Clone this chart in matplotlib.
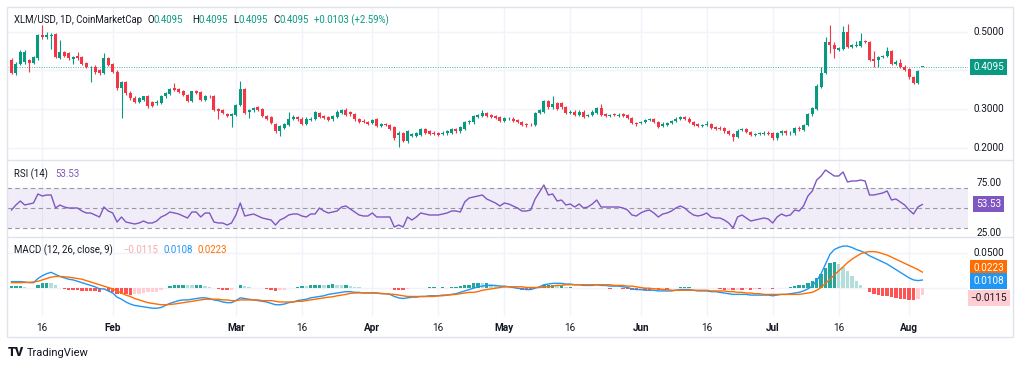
import matplotlib.pyplot as plt
import numpy as np

plt.rcParams['font.family'] = ['Roboto', 'DejaVu Sans']

# daily candles XLM/USD, Jan 9 .. Aug 4
opens = [
    .427, .393, .417, .421, .427, .420, .431, .491, .487, .488,
    .494, .431, .448, .444, .429, .437, .434, .420, .408, .410,
    .401, .393, .431, .417, .397, .354, .371, .343, .330, .318,
    .324, .334, .320, .315, .317, .333, .340, .354, .352, .347,
    .336, .321, .348, .345, .324, .334, .334, .300, .298, .287,
    .284, .285, .311, .352, .294, .297, .305, .300, .283, .279,
    .262, .243, .251, .260, .274, .279, .276, .262, .273, .275,
    .291, .283, .279, .274, .281, .291, .297, .292, .287, .275,
    .271, .268, .264, .274, .257, .262, .259, .254, .234, .238,
    .219, .231, .232, .234, .250, .243, .240, .238, .236, .238,
    .240, .249, .243, .249, .266, .266, .281, .284, .291, .285,
    .283, .279, .271, .275, .276, .273, .268, .262, .262, .260,
    .290, .294, .322, .305, .317, .315, .305, .291, .294, .285,
    .294, .282, .285, .290, .304, .287, .284, .287, .284, .287,
    .285, .277, .265, .264, .267, .273, .275, .268, .257, .260,
    .264, .269, .275, .281, .276, .268, .262, .257, .259, .262,
    .254, .253, .251, .244, .236, .228, .247, .249, .242, .234,
    .236, .236, .240, .238, .225, .238, .244, .238, .238, .253,
    .247, .260, .287, .300, .358, .393, .474, .466, .453, .455,
    .500, .461, .463, .463, .476, .474, .429, .427, .434, .437,
    .449, .418, .420, .410, .403, .384, .367, .4095]
highs = [
    .432, .421, .452, .452, .430, .437, .494, .517, .500, .496,
    .497, .479, .451, .447, .437, .448, .437, .423, .412, .413,
    .404, .444, .434, .420, .400, .374, .374, .346, .333, .331,
    .335, .336, .322, .323, .336, .344, .355, .369, .355, .350,
    .339, .348, .351, .348, .337, .338, .337, .303, .301, .290,
    .290, .314, .373, .356, .301, .306, .309, .303, .286, .282,
    .265, .260, .264, .294, .285, .282, .279, .279, .279, .296,
    .294, .286, .282, .286, .297, .300, .303, .295, .290, .278,
    .274, .271, .276, .277, .265, .265, .262, .257, .243, .241,
    .246, .239, .241, .252, .253, .246, .243, .241, .243, .246,
    .252, .252, .257, .269, .273, .286, .288, .298, .294, .288,
    .286, .282, .280, .279, .279, .276, .271, .265, .264, .293,
    .301, .325, .325, .334, .320, .318, .308, .297, .297, .297,
    .297, .288, .297, .307, .314, .290, .289, .290, .290, .290,
    .288, .280, .268, .271, .275, .278, .278, .271, .266, .268,
    .272, .279, .284, .284, .279, .271, .265, .262, .270, .265,
    .257, .256, .254, .247, .239, .248, .253, .252, .245, .239,
    .241, .243, .243, .241, .241, .247, .247, .243, .254, .256,
    .263, .290, .307, .364, .410, .487, .517, .474, .460, .515,
    .521, .469, .477, .496, .479, .477, .449, .437, .440, .461,
    .452, .426, .429, .413, .406, .387, .402, .4095]
lows = [
    .390, .388, .413, .418, .397, .417, .428, .480, .480, .455,
    .433, .429, .434, .428, .417, .427, .415, .407, .370, .392,
    .389, .391, .411, .394, .350, .277, .338, .325, .315, .315,
    .321, .303, .306, .312, .314, .330, .337, .347, .342, .334,
    .318, .318, .340, .321, .321, .330, .295, .274, .287, .281,
    .255, .282, .308, .288, .277, .294, .295, .280, .272, .261,
    .240, .230, .248, .257, .272, .271, .259, .259, .270, .272,
    .278, .274, .270, .271, .278, .288, .282, .284, .271, .264,
    .264, .259, .261, .254, .254, .256, .247, .222, .204, .216,
    .214, .228, .229, .231, .237, .233, .233, .231, .233, .235,
    .237, .240, .240, .246, .262, .262, .278, .281, .280, .278,
    .274, .268, .268, .273, .268, .264, .256, .254, .258, .257,
    .287, .291, .302, .302, .297, .302, .288, .288, .282, .282,
    .278, .279, .282, .287, .282, .281, .279, .282, .281, .280,
    .274, .261, .258, .261, .264, .270, .265, .252, .254, .257,
    .261, .266, .272, .273, .264, .256, .254, .255, .256, .248,
    .247, .246, .240, .233, .219, .225, .244, .238, .231, .231,
    .233, .233, .233, .222, .222, .235, .235, .235, .235, .245,
    .244, .257, .284, .297, .355, .390, .444, .431, .450, .452,
    .458, .458, .460, .460, .471, .424, .410, .410, .431, .434,
    .415, .415, .407, .398, .379, .364, .364, .4095]
closes = [
    .393, .417, .447, .448, .420, .434, .491, .487, .491, .491,
    .436, .447, .437, .431, .436, .431, .418, .410, .410, .395,
    .393, .431, .414, .397, .354, .371, .341, .328, .318, .328,
    .333, .309, .309, .320, .334, .341, .352, .350, .345, .337,
    .321, .346, .343, .324, .334, .333, .298, .296, .290, .284,
    .287, .311, .352, .291, .298, .303, .298, .283, .275, .264,
    .243, .257, .261, .274, .279, .274, .262, .276, .276, .292,
    .281, .277, .273, .283, .294, .297, .285, .287, .274, .267,
    .267, .262, .273, .257, .262, .259, .250, .225, .238, .219,
    .243, .236, .238, .249, .240, .236, .236, .234, .240, .243,
    .249, .243, .254, .266, .270, .283, .285, .291, .283, .281,
    .277, .271, .277, .276, .271, .267, .259, .260, .261, .290,
    .298, .322, .305, .314, .300, .305, .291, .294, .285, .294,
    .281, .285, .294, .304, .285, .284, .286, .285, .286, .283,
    .277, .264, .262, .268, .272, .275, .268, .255, .263, .265,
    .269, .276, .281, .276, .267, .259, .257, .259, .263, .251,
    .250, .249, .243, .236, .228, .245, .250, .241, .234, .236,
    .238, .240, .236, .225, .238, .244, .238, .240, .251, .248,
    .260, .287, .304, .361, .393, .474, .466, .455, .457, .500,
    .461, .466, .466, .476, .474, .427, .425, .434, .437, .449,
    .418, .423, .410, .401, .382, .367, .3992, .4095]

# RSI (14), one value per candle
rsi_vals = [
    48, 53, 57, 53, 54, 55, 64, 62, 63, 63,
    50, 53, 51, 50, 50, 50, 47, 45, 45, 43,
    41, 51, 47, 45, 36, 41, 36, 35, 34, 35,
    37, 35, 35, 37, 41, 43, 46, 45, 44, 42,
    40, 46, 46, 41, 45, 45, 36, 35, 35, 33,
    35, 43, 55, 42, 43, 44, 42, 40, 39, 38,
    33, 38, 40, 43, 44, 44, 42, 41, 44, 44,
    50, 47, 45, 46, 47, 51, 52, 49, 46, 43,
    42, 42, 45, 41, 41, 41, 41, 31, 33, 31,
    41, 38, 41, 45, 44, 43, 43, 43, 44, 45,
    47, 47, 46, 56, 60, 61, 62, 63, 59, 57,
    55, 52, 55, 54, 52, 50, 47, 47, 48, 59,
    66, 73, 63, 64, 57, 58, 53, 54, 51, 54,
    50, 51, 54, 58, 51, 51, 51, 51, 51, 50,
    48, 43, 42, 45, 47, 48, 45, 41, 44, 45,
    47, 50, 52, 50, 46, 43, 42, 43, 45, 41,
    40, 40, 38, 35, 30, 41, 43, 40, 37, 38,
    39, 40, 39, 35, 41, 44, 42, 43, 48, 47,
    52, 62, 67, 78, 82, 88, 85, 82, 82, 86,
    76, 77, 77, 78, 77, 63, 63, 64, 65, 67,
    58, 59, 56, 53, 48, 44, 51, 53.53]

# MACD (12, 26, close, 9): macd and signal line, one value per candle
macd_vals = [
    .0085, .0085, .0085, .008, .007, .007, .013, .017, .020, .022,
    .019, .016, .014, .012, .011, .009, .007, .005, .003, .001,
    -.002, -.002, -.005, -.008, -.014, -.017, -.021, -.024, -.026, -.027,
    -.028, -.029, -.030, -.030, -.029, -.026, -.023, -.021, -.019, -.018,
    -.018, -.017, -.016, -.015, -.015, -.016, -.018, -.019, -.021, -.022,
    -.022, -.019, -.015, -.016, -.017, -.018, -.019, -.020, -.021, -.023,
    -.025, -.025, -.024, -.022, -.021, -.019, -.018, -.017, -.015, -.014,
    -.013, -.012, -.010, -.009, -.008, -.007, -.006, -.006, -.007, -.007,
    -.008, -.008, -.008, -.008, -.009, -.009, -.010, -.013, -.015, -.016,
    -.015, -.014, -.014, -.013, -.013, -.012, -.012, -.012, -.011, -.011,
    -.010, -.009, -.007, -.005, -.003, -.001, .001, .002, .003, .003,
    .003, .002, .002, .001, .000, -.001, -.002, -.003, -.003, -.001,
    .001, .004, .005, .006, .006, .006, .005, .005, .004, .004,
    .003, .003, .003, .004, .003, .003, .002, .002, .002, .001,
    .000, -.002, -.003, -.003, -.004, -.004, -.004, -.005, -.005, -.005,
    -.005, -.004, -.003, -.003, -.003, -.004, -.005, -.005, -.005, -.006,
    -.006, -.007, -.008, -.009, -.010, -.010, -.010, -.010, -.011, -.011,
    -.011, -.011, -.011, -.012, -.011, -.010, -.010, -.009, -.008, -.007,
    -.005, -.002, .002, .010, .020, .034, .048, .055, .058, .060,
    .060, .058, .055, .053, .050, .046, .043, .040, .037, .034,
    .030, .026, .022, .018, .014, .011, .010, .0108]
signal_vals = [
    .007, .007, .007, .0072, .0075, .008, .009, .011, .013, .015,
    .016, .016, .0155, .015, .014, .013, .012, .010, .008, .006,
    .004, .002, .000, -.002, -.005, -.008, -.011, -.013, -.016, -.018,
    -.020, -.022, -.023, -.024, -.025, -.025, -.0245, -.024, -.023, -.022,
    -.021, -.020, -.019, -.018, -.017, -.017, -.017, -.017, -.018, -.018,
    -.019, -.019, -.018, -.018, -.018, -.018, -.018, -.019, -.019, -.019,
    -.020, -.021, -.021, -.021, -.021, -.020, -.020, -.019, -.018, -.017,
    -.016, -.015, -.014, -.0135, -.012, -.011, -.010, -.0085, -.008, -.0078,
    -.0076, -.0076, -.0078, -.008, -.0085, -.009, -.0095, -.010, -.011, -.012,
    -.013, -.013, -.013, -.013, -.013, -.013, -.013, -.012, -.012, -.011,
    -.0105, -.010, -.009, -.008, -.007, -.007, -.006, -.004, -.003, -.002,
    -.001, .000, .001, .001, .001, .001, .001, .000, .000, .000,
    .000, .001, .001, .002, .003, .003, .004, .004, .004, .004,
    .004, .004, .004, .004, .004, .004, .004, .003, .003, .003,
    .002, .002, .001, .000, -.001, -.001, -.002, -.002, -.003, -.003,
    -.004, -.004, -.004, -.004, -.004, -.004, -.004, -.004, -.004, -.005,
    -.005, -.005, -.005, -.006, -.006, -.007, -.007, -.008, -.008, -.009,
    -.009, -.010, -.010, -.010, -.010, -.010, -.010, -.010, -.010, -.010,
    -.009, -.008, -.007, -.004, .000, .006, .012, .018, .024, .030,
    .036, .041, .045, .049, .051, .052, .052, .051, .049, .047,
    .044, .041, .038, .035, .032, .029, .026, .0223]

month_ticks = [7, 23, 51, 66, 82, 97, 112, 127, 143, 158, 173, 188, 204]
month_labels = ['16', 'Feb', 'Mar', '16', 'Apr', '16', 'May', '16', 'Jun', '16', 'Jul', '16', 'Aug']

UP, DOWN = '#089981', '#F23645'
GRID = '#F0F3FA'
TXT = '#131722'

W, H = 1024, 366
fig = plt.figure(figsize=(W / 100, H / 100), dpi=100)


def rect(top, bottom, left=7, right=968):
    return [left / W, 1 - bottom / H, (right - left) / W, (bottom - top) / H]


ax_p = fig.add_axes(rect(7, 160))
ax_r = fig.add_axes(rect(160, 237))
ax_m = fig.add_axes(rect(237, 316))

xlim = ((7 - 11.5) / 4.4, (968 - 11.5) / 4.4)
for ax in (ax_p, ax_r, ax_m):
    ax.set_xlim(*xlim)
    for s in ax.spines.values():
        s.set_visible(False)
    ax.set_yticks([])
    ax.set_xticks([])
    for t in month_ticks:
        ax.axvline(t, color=GRID, lw=1, zorder=0)

# ---- price pane
ax_p.set_ylim(0.5 + (31.7 - 160) / 388, 0.5 + (31.7 - 7) / 388)
for lv in [0.2, 0.3, 0.4, 0.5]:
    ax_p.axhline(lv, color=GRID, lw=1, zorder=0)
o = np.array(opens)
c = np.array(closes)
x = np.arange(len(o))
cols = np.where(c >= o, UP, DOWN)
ax_p.vlines(x, lows, highs, colors=cols, lw=0.8, zorder=2)
body = np.maximum(np.abs(c - o), 0.0012)
ax_p.bar(x, body, bottom=np.minimum(o, c), width=0.68, color=cols, zorder=3)
ax_p.axhline(closes[-1], color=UP, alpha=0.75, lw=0.7, ls=(0, (1, 1.5)), zorder=1)

# ---- RSI pane
ax_r.set_ylim(50 - (237 - 208), 50 + (208 - 160))
ax_r.axhspan(30, 70, color='#7E57C2', alpha=0.1, lw=0, zorder=0)
for lv in (70, 50, 30):
    ax_r.axhline(lv, color='#9598A1', lw=0.8, ls=(0, (4, 3)), zorder=1)
ax_r.plot(x, rsi_vals, color='#7E57C2', lw=1, zorder=3)

# ---- MACD pane
ax_m.set_ylim(-(316 - 287.5) / 690, (287.5 - 237) / 690)
ax_m.axhline(0.05, color=GRID, lw=1, zorder=0)
ax_m.axhline(0, color=GRID, lw=1, zorder=0)
hist = np.array(macd_vals) - np.array(signal_vals)
prev = np.concatenate([[hist[0]], hist[:-1]])
hcols = np.where(hist >= 0,
                 np.where(hist >= prev, '#26A69A', '#B2DFDB'),
                 np.where(hist <= prev, '#FF5252', '#FFCDD2'))
ax_m.bar(x, hist, width=0.75, color=hcols, zorder=2)
ax_m.plot(x, macd_vals, color='#2196F3', lw=1, zorder=3)
ax_m.plot(x, signal_vals, color='#FF6D00', lw=1, zorder=3)

ax_m.set_xticks(month_ticks)
ax_m.set_xticklabels(month_labels)
ax_m.tick_params(axis='x', length=0, pad=5, labelsize=7.2, labelcolor=TXT)
for lab in ax_m.get_xticklabels():
    if not lab.get_text().isdigit():
        lab.set_fontweight('bold')


# ---- right scale labels
def scale_label(ax, val, s, fc=None, tc=TXT):
    kw = {}
    if fc:
        kw['bbox'] = dict(boxstyle='square,pad=0.3', fc=fc, ec='none')
    ax.annotate(s, xy=(1, val), xycoords=('axes fraction', 'data'),
                xytext=(15, 0), textcoords='offset points', ha='center', va='center',
                fontsize=7.2, color=tc, annotation_clip=False, **kw)


for lv in [0.5, 0.3, 0.2]:
    scale_label(ax_p, lv, f'{lv:.4f}')
scale_label(ax_p, closes[-1], f'{closes[-1]:.4f}', UP, 'white')
scale_label(ax_r, 75, '75.00')
scale_label(ax_r, 25, '25.00')
scale_label(ax_r, rsi_vals[-1], f'{rsi_vals[-1]:.2f}', '#7E57C2', 'white')
scale_label(ax_m, 0.05, '0.0500')
scale_label(ax_m, 0.0283, '0.0223', '#FF6D00', 'white')
scale_label(ax_m, 0.0095, '0.0108', '#2196F3', 'white')
scale_label(ax_m, -0.0155, '\u22120.0115', '#FFCDD2', TXT)

# ---- frame lines
for y in (160, 237):
    fig.add_artist(plt.Line2D([7 / W, 1013 / W], [1 - y / H] * 2, color='#E0E3EB', lw=1))
fig.add_artist(plt.Rectangle((7 / W, 1 - 337 / H), 1006 / W, 330 / H, fill=False,
                             ec='#E0E3EB', lw=1))

# ---- legend texts
fig.canvas.draw()
rend = fig.canvas.get_renderer()


def chain(x0, y0, parts, size=6.9):
    xx = x0
    for s, col in parts:
        t = fig.text(xx / W, 1 - y0 / H, s, color=col, fontsize=size, va='center', ha='left')
        xx += t.get_window_extent(renderer=rend).width


chain(14, 20, [('XLM/USD, 1D, CoinMarketCap', TXT)])
chain(147, 20, [('O', TXT), ('0.4095', UP)])
chain(192, 20, [('H', TXT), ('0.4095', UP)])
chain(233, 20, [('L', TXT), ('0.4095', UP)])
chain(273, 20, [('C', TXT), ('0.4095', UP)])
chain(314, 20, [('+0.0103 (+2.59%)', UP)])
chain(14, 174, [('RSI (14)', TXT)])
chain(55, 174, [('53.53', '#7E57C2')])
chain(14, 250, [('MACD (12, 26, close, 9)', TXT)])
chain(123, 250, [('\u22120.0115', '#F7A9B2')])
chain(163, 250, [('0.0108', '#2196F3')])
chain(198, 250, [('0.0223', '#FF6D00')])

fig.text(8 / W, 1 - 353 / H, 'TV', fontsize=9, fontweight='heavy', color=TXT, va='center')
fig.text(27 / W, 1 - 353 / H, 'TradingView', fontsize=8, color=TXT, va='center')

fig.savefig('out.png', dpi=100)
